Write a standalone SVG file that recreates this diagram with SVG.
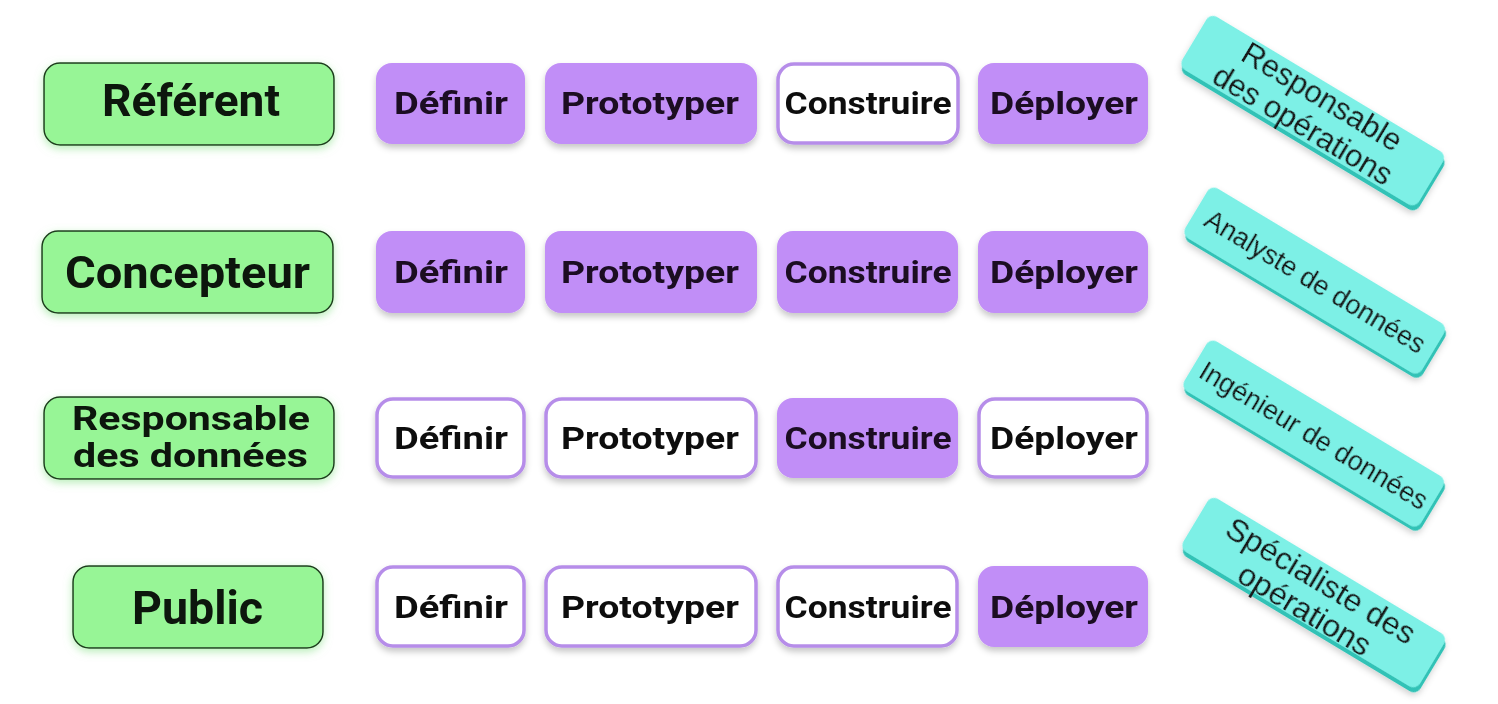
<svg xmlns="http://www.w3.org/2000/svg" width="1498" height="704" viewBox="0 0 1498 704">
<defs>
<filter id="glow" x="-20%" y="-30%" width="140%" height="160%">
<feGaussianBlur in="SourceAlpha" stdDeviation="4"/>
<feOffset dx="0" dy="3" result="b"/>
<feFlood flood-color="#7fe07f" flood-opacity="0.55"/>
<feComposite in2="b" operator="in"/>
<feMerge><feMergeNode/><feMergeNode in="SourceGraphic"/></feMerge>
</filter>
<filter id="shadow" x="-20%" y="-30%" width="140%" height="160%">
<feGaussianBlur in="SourceAlpha" stdDeviation="3"/>
<feOffset dx="0" dy="4" result="b"/>
<feFlood flood-color="#000" flood-opacity="0.22"/>
<feComposite in2="b" operator="in"/>
<feMerge><feMergeNode/><feMergeNode in="SourceGraphic"/></feMerge>
</filter>
<filter id="tshadow" x="-20%" y="-40%" width="140%" height="180%">
<feGaussianBlur in="SourceAlpha" stdDeviation="3"/>
<feOffset dx="1" dy="3" result="b"/>
<feFlood flood-color="#000" flood-opacity="0.18"/>
<feComposite in2="b" operator="in"/>
<feMerge><feMergeNode/><feMergeNode in="SourceGraphic"/></feMerge>
</filter>
</defs>
<style>
.role{fill:#97f596;stroke:#1d3a1d;stroke-width:1.5}
.rt{font-family:Roboto,"Liberation Sans",sans-serif;font-weight:700;fill:#0c150c;text-anchor:middle}
.on{fill:#c18ef7}
.off{fill:#ffffff;stroke:#b68de9;stroke-width:3.5}
.st{font-family:Roboto,"Liberation Sans",sans-serif;font-weight:700;font-size:32px;text-anchor:middle}
.on+.st{fill:#1a0f24}
.off+.st{fill:#111111}
.side{fill:#33c2b6}
.tl{fill:#7df0e6}
.tt{font-family:"Liberation Sans",Arial,sans-serif;fill:#141414;text-anchor:middle}
</style>
<rect width="1498" height="704" fill="#ffffff"/>

<g id="connectors"></g>

<!-- Roles -->
<g id="role-referent" filter="url(#glow)">
<rect class="role" x="44" y="63" width="290" height="82" rx="16"/>
<text class="rt" x="191" y="116" font-size="44" textLength="178" lengthAdjust="spacingAndGlyphs">Référent</text>
</g>
<g id="role-concepteur" filter="url(#glow)">
<rect class="role" x="42" y="231" width="291" height="82" rx="16"/>
<text class="rt" x="187.5" y="288" font-size="45" textLength="245" lengthAdjust="spacingAndGlyphs">Concepteur</text>
</g>
<g id="role-responsable" filter="url(#glow)">
<rect class="role" x="44" y="397" width="290" height="82" rx="16"/>
<text class="rt" x="191" y="430" font-size="34" textLength="238" lengthAdjust="spacingAndGlyphs">Responsable</text>
<text class="rt" x="190.5" y="467" font-size="34" textLength="235" lengthAdjust="spacingAndGlyphs">des données</text>
</g>
<g id="role-public" filter="url(#glow)">
<rect class="role" x="73" y="566" width="250" height="82" rx="16"/>
<text class="rt" x="197.5" y="624" font-size="47" textLength="131" lengthAdjust="spacingAndGlyphs">Public</text>
</g>

<!-- Row 1 -->
<g id="r1-definir" filter="url(#shadow)"><rect class="on" x="376" y="63" width="149" height="81" rx="16"/><text class="st" x="451" y="114" textLength="114" lengthAdjust="spacingAndGlyphs">Définir</text></g>
<g id="r1-prototyper" filter="url(#shadow)"><rect class="on" x="545" y="63" width="212" height="81" rx="16"/><text class="st" x="650" y="114" textLength="178" lengthAdjust="spacingAndGlyphs">Prototyper</text></g>
<g id="r1-construire" filter="url(#shadow)"><rect class="off" x="778" y="64" width="180" height="79" rx="16"/><text class="st" x="868" y="114" textLength="167" lengthAdjust="spacingAndGlyphs">Construire</text></g>
<g id="r1-deployer" filter="url(#shadow)"><rect class="on" x="978" y="63" width="170" height="81" rx="16"/><text class="st" x="1064" y="114" textLength="148" lengthAdjust="spacingAndGlyphs">Déployer</text></g>

<!-- Row 2 -->
<g id="r2-definir" filter="url(#shadow)"><rect class="on" x="376" y="231" width="149" height="82" rx="16"/><text class="st" x="451" y="283" textLength="114" lengthAdjust="spacingAndGlyphs">Définir</text></g>
<g id="r2-prototyper" filter="url(#shadow)"><rect class="on" x="545" y="231" width="212" height="82" rx="16"/><text class="st" x="650" y="283" textLength="178" lengthAdjust="spacingAndGlyphs">Prototyper</text></g>
<g id="r2-construire" filter="url(#shadow)"><rect class="on" x="777" y="231" width="181" height="82" rx="16"/><text class="st" x="868" y="283" textLength="167" lengthAdjust="spacingAndGlyphs">Construire</text></g>
<g id="r2-deployer" filter="url(#shadow)"><rect class="on" x="978" y="231" width="170" height="82" rx="16"/><text class="st" x="1064" y="283" textLength="148" lengthAdjust="spacingAndGlyphs">Déployer</text></g>

<!-- Row 3 -->
<g id="r3-definir" filter="url(#shadow)"><rect class="off" x="377" y="399" width="147" height="78" rx="16"/><text class="st" x="451" y="449" textLength="114" lengthAdjust="spacingAndGlyphs">Définir</text></g>
<g id="r3-prototyper" filter="url(#shadow)"><rect class="off" x="546" y="399" width="210" height="78" rx="16"/><text class="st" x="650" y="449" textLength="178" lengthAdjust="spacingAndGlyphs">Prototyper</text></g>
<g id="r3-construire" filter="url(#shadow)"><rect class="on" x="777" y="398" width="181" height="80" rx="16"/><text class="st" x="868" y="449" textLength="167" lengthAdjust="spacingAndGlyphs">Construire</text></g>
<g id="r3-deployer" filter="url(#shadow)"><rect class="off" x="979" y="399" width="168" height="78" rx="16"/><text class="st" x="1064" y="449" textLength="148" lengthAdjust="spacingAndGlyphs">Déployer</text></g>

<!-- Row 4 -->
<g id="r4-definir" filter="url(#shadow)"><rect class="off" x="377" y="567" width="147" height="79" rx="16"/><text class="st" x="451" y="618" textLength="114" lengthAdjust="spacingAndGlyphs">Définir</text></g>
<g id="r4-prototyper" filter="url(#shadow)"><rect class="off" x="546" y="567" width="210" height="79" rx="16"/><text class="st" x="650" y="618" textLength="178" lengthAdjust="spacingAndGlyphs">Prototyper</text></g>
<g id="r4-construire" filter="url(#shadow)"><rect class="off" x="778" y="567" width="179" height="79" rx="16"/><text class="st" x="868" y="618" textLength="167" lengthAdjust="spacingAndGlyphs">Construire</text></g>
<g id="r4-deployer" filter="url(#shadow)"><rect class="on" x="978" y="566" width="170" height="81" rx="16"/><text class="st" x="1064" y="618" textLength="148" lengthAdjust="spacingAndGlyphs">Déployer</text></g>

<!-- Rotated tags -->
<g id="tag-responsable-operations" transform="translate(1313,112) rotate(31)" filter="url(#tshadow)">
<rect class="side" x="-136" y="-28" width="276" height="62" rx="8"/>
<rect class="tl" x="-139" y="-32" width="276" height="62" rx="8"/>
<text class="tt" x="0" y="-7" font-size="31">Responsable</text>
<text class="tt" x="-2" y="27" font-size="31">des opérations</text>
</g>
<g id="tag-analyste" transform="translate(1315,282) rotate(31)" filter="url(#tshadow)">
<rect class="side" x="-136" y="-27" width="276" height="58" rx="8"/>
<rect class="tl" x="-139" y="-30" width="276" height="58" rx="8"/>
<text class="tt" x="0" y="9" font-size="27">Analyste de données</text>
</g>
<g id="tag-ingenieur" transform="translate(1314,435) rotate(31)" filter="url(#tshadow)">
<rect class="side" x="-136" y="-27" width="276" height="58" rx="8"/>
<rect class="tl" x="-139" y="-30" width="276" height="58" rx="8"/>
<text class="tt" x="0" y="10" font-size="27">Ingénieur de données</text>
</g>
<g id="tag-specialiste" transform="translate(1314,594) rotate(31)" filter="url(#tshadow)">
<rect class="side" x="-136" y="-28" width="276" height="62" rx="8"/>
<rect class="tl" x="-139" y="-32" width="276" height="62" rx="8"/>
<text class="tt" x="-1" y="-4" font-size="32">Spécialiste des</text>
<text class="tt" x="0" y="29" font-size="32">opérations</text>
</g>
</svg>
